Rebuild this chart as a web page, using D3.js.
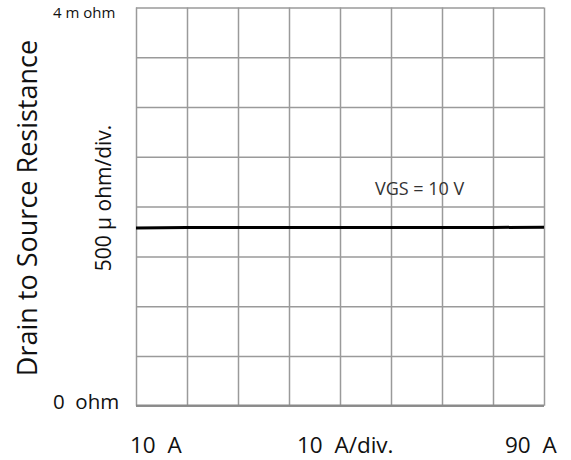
<!DOCTYPE html>
<html>
<head>
<meta charset="utf-8">
<script src="https://cdn.jsdelivr.net/npm/d3@7"></script>
<style>
  body { margin: 0; background: #fff; }
  svg text { font-family: "Open Sans", "DejaVu Sans", sans-serif; white-space: pre; }
</style>
</head>
<body>
<div id="chart"></div>
<script>
// drain current (A) and on-resistance (m ohm)
var current = [10, 20, 30, 40, 50, 60, 70, 80, 90]
var rds = [1.785, 1.789, 1.790, 1.790, 1.791, 1.791, 1.791, 1.791, 1.792]

var xTicks = [10, 20, 30, 40, 50, 60, 70, 80, 90]
var yTicks = [0, 0.5, 1, 1.5, 2, 2.5, 3, 3.5, 4]
var xLabels = ["10  A", "10  A/div.", "90  A"]
var yLabels = ["4 m ohm", "0  ohm"]
var yTitle = "Drain to Source Resistance"
var yUnit = "500 \u00b5 ohm/div."
var curveLabel = "VGS = 10 V"

var width = 571, height = 460
var plotLeft = 136, plotRight = 544, plotTop = 7.5, plotBottom = 405.7

var svg = d3.select("#chart").append("svg")
    .attr("width", width)
    .attr("height", height)

var x = d3.scaleLinear().domain([10, 90]).range([plotLeft, plotRight])
var y = d3.scaleLinear().domain([0, 4]).range([plotBottom, plotTop])

// grid
svg.append("g")
    .attr("transform", "translate(0," + plotBottom + ")")
    .call(d3.axisBottom(x).tickValues(xTicks).tickSize(-(plotBottom - plotTop)).tickFormat(""))
    .call(g => g.select(".domain").remove())
    .selectAll("line").attr("stroke", "#9a9a9a").attr("stroke-width", 1.5)

svg.append("g")
    .attr("transform", "translate(" + plotLeft + ",0)")
    .call(d3.axisLeft(y).tickValues(yTicks).tickSize(-(plotRight - plotLeft)).tickFormat(""))
    .call(g => g.select(".domain").remove())
    .selectAll("line").attr("stroke", "#9a9a9a").attr("stroke-width", 1.5)

// bottom axis line a bit heavier
svg.append("line")
    .attr("x1", plotLeft).attr("x2", plotRight)
    .attr("y1", y(0)).attr("y2", y(0))
    .attr("stroke", "#8a8a8a").attr("stroke-width", 2.2)

// curve
var line = d3.line()
    .x((d, i) => x(current[i]))
    .y(d => y(d))
    .curve(d3.curveMonotoneX)

svg.append("path")
    .datum(rds)
    .attr("d", line)
    .attr("fill", "none")
    .attr("stroke", "#000")
    .attr("stroke-width", 3)

svg.append("text")
    .attr("x", 375).attr("y", 195)
    .attr("font-size", 18)
    .attr("fill", "#333")
    .text(curveLabel)

// axis texts
svg.append("text")
    .attr("x", 53).attr("y", 18)
    .attr("font-size", 15)
    .attr("fill", "#111")
    .text(yLabels[0])

svg.append("text")
    .attr("x", 53).attr("y", 409)
    .attr("font-size", 20.5)
    .attr("fill", "#111")
    .text(yLabels[1])

svg.append("text")
    .attr("transform", "translate(37,208) rotate(-90)")
    .attr("text-anchor", "middle")
    .attr("font-size", 27)
    .attr("fill", "#111")
    .text(yTitle)

svg.append("text")
    .attr("transform", "translate(111,198) rotate(-90)")
    .attr("text-anchor", "middle")
    .attr("font-size", 21)
    .attr("fill", "#111")
    .text(yUnit)

var xLabelPos = [130, 297, 505]
svg.selectAll(".xlab")
    .data(xLabels)
    .enter()
    .append("text")
    .attr("class", "xlab")
    .attr("x", (d, i) => xLabelPos[i])
    .attr("y", 453)
    .attr("font-size", 22.5)
    .attr("fill", "#111")
    .text(d => d)
</script>
</body>
</html>
